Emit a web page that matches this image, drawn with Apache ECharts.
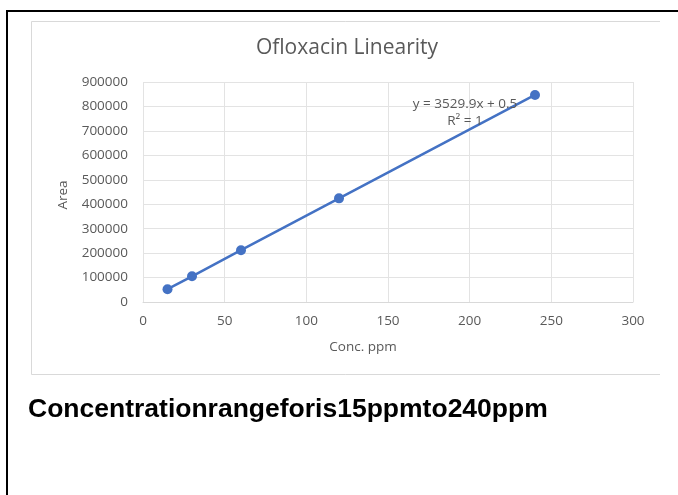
<!DOCTYPE html>
<html>
<head>
<meta charset="utf-8">
<script src="https://cdn.jsdelivr.net/npm/echarts@6/dist/echarts.min.js"></script>
<style>
html,body{margin:0;padding:0;background:#fff;}
#c{width:678px;height:495px;}
</style>
</head>
<body>
<div id="c"></div>
<script>
const concentrations = [15, 30, 60, 120, 240];
const areas = [52500, 105000, 212000, 424000, 847000];
const xTicks = [0, 50, 100, 150, 200, 250, 300];
const yTicks = [0, 100000, 200000, 300000, 400000, 500000, 600000, 700000, 800000, 900000];
const chartTitle = 'Ofloxacin Linearity';
const xTitle = 'Conc. ppm';
const yTitle = 'Area';
const equationText = 'y = 3529.9x + 0.5';
const r2Text = 'R² = 1';
const caption = 'Concentrationrangeforis15ppmto240ppm';

const chart = echarts.init(document.getElementById('c'), null, {renderer: 'canvas'});
const grey = '#595959';
const font = '"Open Sans", "Noto Sans", sans-serif';

chart.setOption({
  animation: false,
  backgroundColor: '#fff',
  grid: {left: 143, top: 82, right: 45, bottom: 193, containLabel: false},
  xAxis: {
    type: 'value', min: xTicks[0], max: xTicks[xTicks.length - 1], interval: 50,
    axisLine: {show: true, lineStyle: {color: '#d9d9d9', width: 1}},
    axisTick: {show: false},
    axisLabel: {color: grey, fontSize: 13.5, fontFamily: font, margin: 12, formatter: v => String(v)},
    splitLine: {show: true, lineStyle: {color: '#e3e3e3', width: 1}}
  },
  yAxis: {
    type: 'value', min: yTicks[0], max: yTicks[yTicks.length - 1], interval: 100000,
    axisLine: {show: false},
    axisTick: {show: false},
    axisLabel: {color: grey, fontSize: 13.5, fontFamily: font, margin: 15, formatter: v => String(v)},
    splitLine: {show: true, lineStyle: {color: '#e3e3e3', width: 1}}
  },
  series: [{
    type: 'line',
    data: concentrations.map((c, i) => [c, areas[i]]),
    symbol: 'circle',
    symbolSize: 10,
    lineStyle: {color: '#4472C4', width: 2.5},
    itemStyle: {color: '#4472C4'},
    z: 3
  }],
  graphic: [
    {type: 'polyline', shape: {points: [[678, 11], [7, 11], [7, 495]]}, style: {stroke: '#000', lineWidth: 2, fill: null}, silent: true},
    {type: 'polyline', shape: {points: [[660, 21.5], [31.5, 21.5], [31.5, 374.5], [660, 374.5]]}, style: {stroke: '#d9d9d9', lineWidth: 1, fill: null}, silent: true},
    {type: 'text', x: 347, y: 48, style: {text: chartTitle, fill: grey, font: '21px ' + font, align: 'center', verticalAlign: 'middle'}},
    {type: 'text', x: 363, y: 347, style: {text: xTitle, fill: grey, font: '13.5px ' + font, align: 'center', verticalAlign: 'middle'}},
    {type: 'text', x: 63, y: 195, rotation: Math.PI / 2, style: {text: yTitle, fill: grey, font: '13.5px ' + font, align: 'center', verticalAlign: 'middle'}},
    {type: 'text', x: 465, y: 104, z: 10, style: {text: equationText, fill: grey, font: '13.5px ' + font, align: 'center', verticalAlign: 'middle'}},
    {type: 'text', x: 465, y: 121, z: 10, style: {text: r2Text, fill: grey, font: '13.5px ' + font, align: 'center', verticalAlign: 'middle'}},
    {type: 'text', x: 28, y: 396, style: {text: caption, fill: '#000', font: 'bold 26.5px "Liberation Sans", Arial, sans-serif', align: 'left', verticalAlign: 'top'}}
  ]
});
</script>
</body>
</html>
